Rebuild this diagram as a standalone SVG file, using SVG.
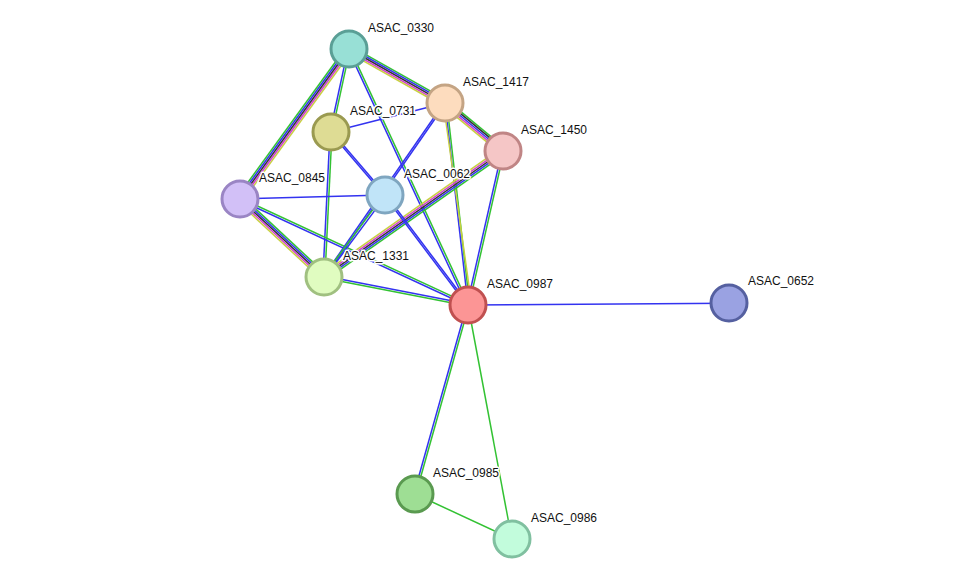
<svg xmlns="http://www.w3.org/2000/svg" width="975" height="585" viewBox="0 0 975 585">
<style>
line{stroke-width:1.5;fill:none}
.g{stroke:#33c233}.b{stroke:#3333f0}.k{stroke:#333}.m{stroke:#d040d0}.y{stroke:#c8d040}
circle{stroke-width:3}
text{font-family:"Liberation Sans",Arial,sans-serif;font-size:12px;fill:#111;stroke:#fff;stroke-width:3px;paint-order:stroke;stroke-linejoin:round}
</style>
<rect width="975" height="585" fill="#fff"/>
<g id="edges">
<g transform="translate(349,49) rotate(126)"><line class="y" x2="185.4" y1="-3.4" y2="-3.4"/><line class="m" x2="185.4" y1="-1.7" y2="-1.7"/><line class="k" x2="185.4"/><line class="b" x2="185.4" y1="1.7" y2="1.7"/><line class="g" x2="185.4" y1="3.4" y2="3.4"/></g>
<g transform="translate(349,49) rotate(29.4)"><line class="g" x2="110.1" y1="-3.4" y2="-3.4"/><line class="b" x2="110.1" y1="-1.7" y2="-1.7"/><line class="k" x2="110.1"/><line class="m" x2="110.1" y1="1.7" y2="1.7"/><line class="y" x2="110.1" y1="3.4" y2="3.4"/></g>
<g transform="translate(349,49) rotate(102.2)"><line class="g" x2="84.9" y1="-1" y2="-1"/><line class="b" x2="84.9" y1="1" y2="1"/></g>
<g transform="translate(349,49) rotate(65.1)"><line class="g" x2="282.3" y1="-1" y2="-1"/><line class="b" x2="282.3" y1="1" y2="1"/></g>
<g transform="translate(331,132) rotate(-14.3)"><line class="b" x2="117.6"/></g>
<g transform="translate(331,132) rotate(49.4)"><line class="b" x2="83" y1="-0.8" y2="-0.8"/><line class="b" x2="83" y1="0.8" y2="0.8"/></g>
<g transform="translate(331,132) rotate(92.8)"><line class="g" x2="145.2" y1="-1" y2="-1"/><line class="b" x2="145.2" y1="1" y2="1"/></g>
<g transform="translate(240,199) rotate(-1.6)"><line class="b" x2="145.1"/></g>
<g transform="translate(240,199) rotate(42.9)"><line class="g" x2="114.6" y1="-3.4" y2="-3.4"/><line class="b" x2="114.6" y1="-1.7" y2="-1.7"/><line class="k" x2="114.6"/><line class="m" x2="114.6" y1="1.7" y2="1.7"/><line class="y" x2="114.6" y1="3.4" y2="3.4"/></g>
<g transform="translate(240,199) rotate(24.9)"><line class="g" x2="251.4" y1="-1" y2="-1"/><line class="b" x2="251.4" y1="1" y2="1"/></g>
<g transform="translate(445,103) rotate(39.6)"><line class="g" x2="75.3" y1="-3.4" y2="-3.4"/><line class="k" x2="75.3" y1="-1.7" y2="-1.7"/><line class="b" x2="75.3"/><line class="m" x2="75.3" y1="1.7" y2="1.7"/><line class="y" x2="75.3" y1="3.4" y2="3.4"/></g>
<g transform="translate(445,103) rotate(124.8)"><line class="b" x2="211.9" y1="-0.8" y2="-0.8"/><line class="b" x2="211.9" y1="0.8" y2="0.8"/></g>
<g transform="translate(445,103) rotate(83.5)"><line class="g" x2="203.3" y1="-1.7" y2="-1.7"/><line class="b" x2="203.3"/><line class="y" x2="203.3" y1="1.7" y2="1.7" transform="rotate(-1.5)"/></g>
<g transform="translate(503,151) rotate(144.9)"><line class="g" x2="218.9" y1="-3.4" y2="-3.4"/><line class="b" x2="218.9" y1="-1.7" y2="-1.7"/><line class="k" x2="218.9"/><line class="m" x2="218.9" y1="1.7" y2="1.7"/><line class="y" x2="218.9" y1="3.4" y2="3.4"/></g>
<g transform="translate(503,151) rotate(102.8)"><line class="g" x2="157.9" y1="-1" y2="-1"/><line class="b" x2="157.9" y1="1" y2="1"/></g>
<g transform="translate(385,195) rotate(126.6)"><line class="b" x2="102.2" y1="-1" y2="-1"/><line class="g" x2="102.2" y1="1" y2="1"/></g>
<g transform="translate(385,195) rotate(53)"><line class="b" x2="137.8" y1="-0.8" y2="-0.8"/><line class="b" x2="137.8" y1="0.8" y2="0.8"/></g>
<g transform="translate(324,277) rotate(11)"><line class="b" x2="146.7" y1="-1" y2="-1"/><line class="g" x2="146.7" y1="1" y2="1"/></g>
<g transform="translate(468,305) rotate(-0.4)"><line class="b" x2="261"/></g>
<g transform="translate(468,305) rotate(105.7)"><line class="g" x2="196.3" y1="-1" y2="-1"/><line class="b" x2="196.3" y1="1" y2="1"/></g>
<g transform="translate(468,305) rotate(79.4)"><line class="g" x2="238.1"/></g>
<g transform="translate(415,494) rotate(24.9)"><line class="g" x2="106.9"/></g>
</g>
<g id="n0330"><circle cx="349" cy="49" r="18" fill="#98e0d6" stroke="#5a9f96"/><text x="368" y="32">ASAC_0330</text></g>
<g id="n1417"><circle cx="445" cy="103" r="18" fill="#fddcbe" stroke="#c4a484"/><text x="463" y="86">ASAC_1417</text></g>
<g id="n0731"><circle cx="331" cy="132" r="18" fill="#dedc94" stroke="#9a9a50"/><text x="350" y="115">ASAC_0731</text></g>
<g id="n1450"><circle cx="503" cy="151" r="18" fill="#f5c6c6" stroke="#c08585"/><text x="521" y="134">ASAC_1450</text></g>
<g id="n0845"><circle cx="240" cy="199" r="18" fill="#d2c0f7" stroke="#9a85c4"/><text x="259" y="182">ASAC_0845</text></g>
<g id="n0062"><circle cx="385" cy="195" r="18" fill="#c0e4f8" stroke="#7fa6c0"/><text x="404" y="178">ASAC_0062</text></g>
<g id="n1331"><circle cx="324" cy="277" r="18" fill="#e0fcc0" stroke="#a0c080"/><text x="343" y="260">ASAC_1331</text></g>
<g id="n0987"><circle cx="468" cy="305" r="18" fill="#fc9595" stroke="#c05050"/><text x="487" y="288">ASAC_0987</text></g>
<g id="n0652"><circle cx="729" cy="303" r="18" fill="#9aa2e2" stroke="#5560a0"/><text x="748" y="285">ASAC_0652</text></g>
<g id="n0985"><circle cx="415" cy="494" r="18" fill="#9ede94" stroke="#5a9a50"/><text x="433" y="477">ASAC_0985</text></g>
<g id="n0986"><circle cx="512" cy="539" r="18" fill="#c2fcdc" stroke="#80c0a0"/><text x="531" y="522">ASAC_0986</text></g>
</svg>
